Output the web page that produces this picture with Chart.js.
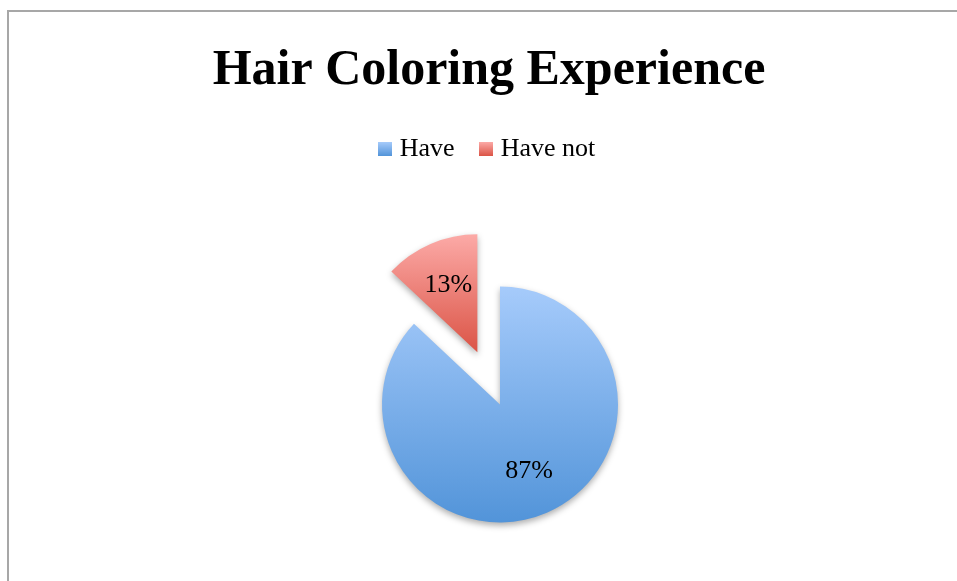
<!DOCTYPE html>
<html>
<head>
<meta charset="utf-8">
<title>Hair Coloring Experience</title>
<script src="https://cdn.jsdelivr.net/npm/chart.js@4.4.1/dist/chart.umd.min.js"></script>
<style>
  html, body { margin: 0; padding: 0; background: #fff; overflow: hidden; }
  #frame {
    position: absolute; left: 7px; top: 10px;
    border-left: 2px solid #a7a7a7; border-top: 2px solid #a7a7a7;
  }
  canvas { display: block; }
</style>
</head>
<body>
<div id="frame"><canvas id="chart" width="960" height="625"></canvas></div>
<script>
const categories = ['Have', 'Have not'];
const values = [87, 13];

// gradient stops per slice, light at top to dark at bottom
const topColors = ['#a6cbfb', '#fcaaa7'];
const bottomColors = ['#5294d9', '#db5446'];
const EXPLODE = [0, 57];   // px each slice is pulled out along its mid angle
const SERIF = '"Liberation Serif", "Times New Roman", serif';

const total = values.reduce((a, b) => a + b, 0);

function sliceAngles(i) {
  let start = -Math.PI / 2;
  for (let k = 0; k < i; k++) start += values[k] / total * 2 * Math.PI;
  return { start, end: start + values[i] / total * 2 * Math.PI };
}

// vertical extent of a slice, used to span its fill gradient
function sliceGradient(context) {
  const chart = context.chart;
  const i = context.dataIndex;
  const area = chart.chartArea;
  const ctrl = chart.getDatasetMeta(0).controller;
  if (!area || !ctrl.outerRadius) return bottomColors[i];
  const r = ctrl.outerRadius;
  const { start, end } = sliceAngles(i);
  const mid = (start + end) / 2;
  const cy = (area.top + area.bottom) / 2 + Math.sin(mid) * EXPLODE[i];
  const inSweep = a => [-2, -1, 0, 1, 2].some(k => {
    const t = a + k * 2 * Math.PI;
    return t >= start && t <= end;
  });
  const ys = [0, Math.sin(start), Math.sin(end)];
  if (inSweep(-Math.PI / 2)) ys.push(-1);
  if (inSweep(Math.PI / 2)) ys.push(1);
  const y0 = cy + Math.min(...ys) * r;
  const y1 = cy + Math.max(...ys) * r;
  const g = chart.ctx.createLinearGradient(0, y0, 0, y1);
  g.addColorStop(0, topColors[i]);
  g.addColorStop(1, bottomColors[i]);
  return g;
}

// small gradient squares for the legend
function legendSwatch(i) {
  const c = document.createElement('canvas');
  c.width = 14; c.height = 14;
  const x = c.getContext('2d');
  const g = x.createLinearGradient(0, 0, 0, 14);
  g.addColorStop(0, topColors[i]);
  g.addColorStop(1, bottomColors[i]);
  x.fillStyle = g;
  x.fillRect(0, 0, 14, 14);
  return c;
}

// empty box on the left so the pie sits right of the title's centre line
const gutter = {
  id: 'gutter',
  beforeInit(chart) {
    Chart.layouts.addBox(chart, {
      position: 'left',
      weight: 0,
      fullSize: false,
      options: {},
      isHorizontal() { return false; },
      update() { this.width = 22; this.height = 0; },
      draw() {}
    });
  }
};

const explodePlugin = {
  id: 'explode',
  afterDatasetUpdate(chart, args) {
    args.meta.data.forEach((arc, i) => {
      const d = EXPLODE[i] || 0;
      const mid = (arc.startAngle + arc.endAngle) / 2;
      arc.x += Math.cos(mid) * d;
      arc.y += Math.sin(mid) * d;
    });
  },
  beforeDatasetDraw(chart) {
    const ctx = chart.ctx;
    ctx.save();
    ctx.shadowColor = 'rgba(0, 0, 0, 0.32)';
    ctx.shadowBlur = 6;
    ctx.shadowOffsetY = 3;
  },
  afterDatasetDraw(chart) {
    chart.ctx.restore();
  }
};

const percentLabels = {
  id: 'percentLabels',
  afterDatasetsDraw(chart) {
    const ctx = chart.ctx;
    ctx.save();
    ctx.font = '26px ' + SERIF;
    ctx.fillStyle = '#000';
    ctx.textAlign = 'center';
    ctx.textBaseline = 'middle';
    chart.getDatasetMeta(0).data.forEach((arc, i) => {
      const mid = (arc.startAngle + arc.endAngle) / 2;
      const d = arc.outerRadius * 0.62;
      const text = Math.round(values[i] / total * 100) + '%';
      ctx.fillText(text, arc.x + Math.cos(mid) * d, arc.y + Math.sin(mid) * d);
    });
    ctx.restore();
  }
};

new Chart(document.getElementById('chart'), {
  type: 'pie',
  data: {
    labels: categories,
    datasets: [{
      data: values,
      backgroundColor: sliceGradient,
      borderWidth: 0,
      radius: 118
    }]
  },
  options: {
    responsive: false,
    animation: false,
    devicePixelRatio: 1,
    layout: { padding: 0 },
    plugins: {
      title: {
        display: true,
        text: 'Hair Coloring Experience',
        color: '#000',
        font: { family: SERIF, size: 50, weight: 'bold', lineHeight: 1.2 },
        padding: { top: 29, bottom: 6 }
      },
      legend: {
        position: 'top',
        labels: {
          color: '#000',
          font: { family: SERIF, size: 26 },
          usePointStyle: true,
          boxWidth: 4,
          boxHeight: 14,
          padding: 29,
          generateLabels: () => categories.map((name, i) => ({
            text: name,
            pointStyle: legendSwatch(i),
            fillStyle: bottomColors[i],
            strokeStyle: 'transparent',
            lineWidth: 0,
            hidden: false,
            index: i
          }))
        }
      },
      tooltip: { enabled: false }
    }
  },
  plugins: [gutter, explodePlugin, percentLabels]
});
</script>
</body>
</html>
